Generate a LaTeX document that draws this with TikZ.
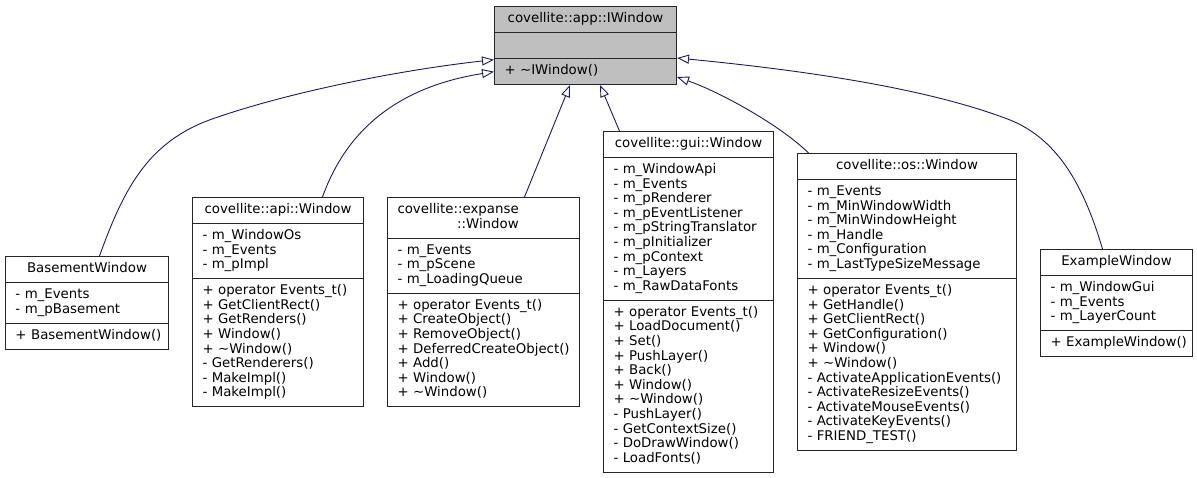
\documentclass[tikz,border=0pt]{standalone}
\usepackage{fontspec}
\setmainfont{DejaVu Sans}
\usetikzlibrary{shapes.multipart,arrows.meta}
\definecolor{edgeblue}{HTML}{191970}
\definecolor{basegray}{HTML}{BFBFBF}

\begin{document}
\begin{tikzpicture}[x=1pt,y=1pt]
        \tikzstyle{classbox}=[rectangle split,rectangle split parts=3,draw=black!85,line width=1pt,fill=white,inner xsep=10pt,inner ysep=5.2pt,align=left,anchor=north west,font=\fontsize{13.33}{14.6}\selectfont]
        \tikzstyle{inherit}=[draw=edgeblue,line width=0.9pt,-{Triangle[open,length=12pt,width=9pt]}]
        \useasboundingbox (0,0) rectangle (1197,-477);
        % base class
        \node [classbox,fill=basegray,text width=162pt] (iwindow) at (494,-6) {\makebox[\hsize]{\strut covellite::app::IWindow}
          \nodepart{two}\strut
          \nodepart{three}\strut + \textasciitilde IWindow()\strut};
        % derived classes
        \node [classbox,text width=143pt] (basement) at (5,-256) {\makebox[\hsize]{\strut BasementWindow}
          \nodepart{two}\strut - m\_Events\\- m\_pBasement\strut
          \nodepart{three}\strut\mbox{+ BasementWindow()}\strut};
        \node [classbox,text width=151pt] (apiwin) at (192,-197) {\makebox[\hsize]{\strut covellite::api::Window}
          \nodepart{two}\strut - m\_WindowOs\\- m\_Events\\- m\_pImpl\strut
          \nodepart{three}\strut + operator Events\_t()\\+ GetClientRect()\\+ GetRenders()\\+ Window()\\+ \textasciitilde Window()\\- GetRenderers()\\- MakeImpl()\\- MakeImpl()\strut};
        \node [classbox,text width=172pt] (expanse) at (387,-197) {\begin{tabular}{@{}r@{}}covellite::expanse\\::Window\end{tabular}
          \nodepart{two}\strut - m\_Events\\- m\_pScene\\- m\_LoadingQueue\strut
          \nodepart{three}\strut + operator Events\_t()\\+ CreateObject()\\+ RemoveObject()\\\mbox{+ DeferredCreateObject()}\\+ Add()\\+ Window()\\+ \textasciitilde Window()\strut};
        \node [classbox,text width=150pt] (guiwin) at (603,-131) {\makebox[\hsize]{\strut covellite::gui::Window}
          \nodepart{two}\strut - m\_WindowApi\\- m\_Events\\- m\_pRenderer\\- m\_pEventListener\\- m\_pStringTranslator\\- m\_pInitializer\\- m\_pContext\\- m\_Layers\\- m\_RawDataFonts\strut
          \nodepart{three}\strut + operator Events\_t()\\+ LoadDocument()\\+ Set()\\+ PushLayer()\\+ Back()\\+ Window()\\+ \textasciitilde Window()\\- PushLayer()\\- GetContextSize()\\- DoDrawWindow()\\- LoadFonts()\strut};
        \node [classbox,text width=199pt] (oswin) at (797,-153) {\makebox[\hsize]{\strut covellite::os::Window}
          \nodepart{two}\strut - m\_Events\\- m\_MinWindowWidth\\- m\_MinWindowHeight\\- m\_Handle\\- m\_Configuration\\- m\_LastTypeSizeMessage\strut
          \nodepart{three}\strut + operator Events\_t()\\+ GetHandle()\\+ GetClientRect()\\+ GetConfiguration()\\+ Window()\\+ \textasciitilde Window()\\- ActivateApplicationEvents()\\- ActivateResizeEvents()\\- ActivateMouseEvents()\\- ActivateKeyEvents()\\- FRIEND\_TEST()\strut};
        \node [classbox,text width=132pt] (example) at (1040,-249) {\makebox[\hsize]{\strut ExampleWindow}
          \nodepart{two}\strut - m\_WindowGui\\- m\_Events\\- m\_LayerCount\strut
          \nodepart{three}\strut\mbox{+ ExampleWindow()}\strut};
        % inheritance
        \draw [inherit] ([xshift=12.5pt]basement.north) .. controls (125,-185) and (150,-140) .. (215,-118)
          .. controls (290,-92) and (400,-70) .. ([yshift=25.3pt]iwindow.south west);
        \draw [inherit] ([xshift=44.5pt]apiwin.north) .. controls (350,-120) and (410,-85) .. ([yshift=13.3pt]iwindow.south west);
        \draw [inherit] ([xshift=41pt]expanse.north) -- ([xshift=76pt]iwindow.south west);
        \draw [inherit] ([xshift=-69pt]guiwin.north) -- ([xshift=106pt]iwindow.south west);
        \draw [inherit] ([xshift=-98.5pt]oswin.north) .. controls (780,-125) and (720,-92) .. ([yshift=8pt]iwindow.south east);
        \draw [inherit] ([xshift=-14pt]example.north) .. controls (1085,-190) and (1060,-140) .. (1010,-120)
          .. controls (920,-85) and (780,-68) .. ([yshift=27pt]iwindow.south east);
\end{tikzpicture}
\end{document}
